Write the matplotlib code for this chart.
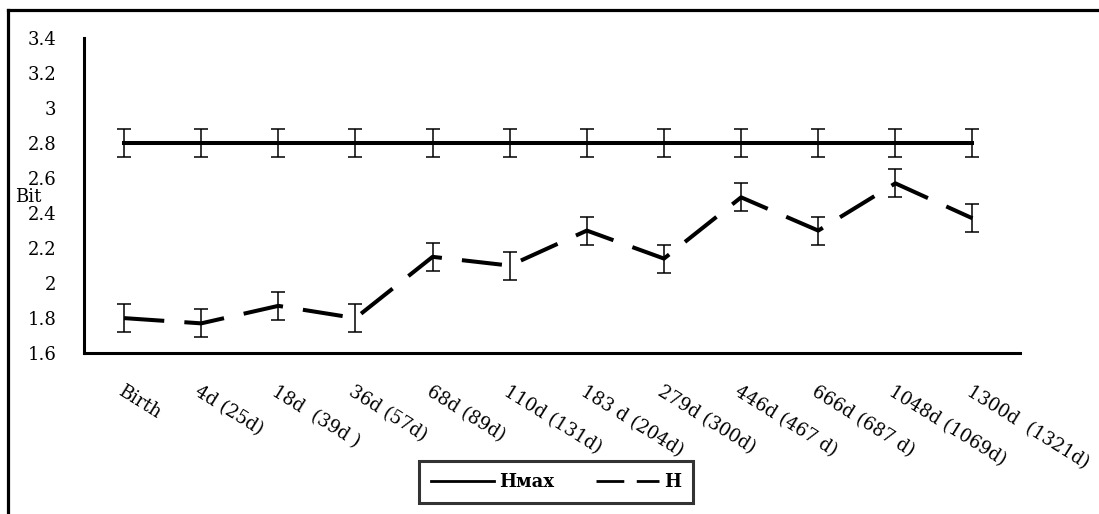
import matplotlib
matplotlib.use("Agg")
import matplotlib.pyplot as plt
from matplotlib.lines import Line2D

# ages (categories) and entropy values
ages = ['Birth', '4d (25d)', '18d  (39d )', '36d (57d)', '68d (89d)', '110d (131d)',
        '183 d (204d)', '279d (300d)', '446d (467 d)', '666d (687 d)', '1048d (1069d)',
        '1300d  (1321d)']
h_max = [2.8] * 12
h_max_err = [0.08] * 12
h = [1.80, 1.77, 1.87, 1.80, 2.15, 2.10, 2.30, 2.14, 2.49, 2.30, 2.57, 2.37]
h_err = [0.08] * 12

yticks = [1.6, 1.8, 2.0, 2.2, 2.4, 2.6, 2.8, 3.0, 3.2, 3.4]
ytick_labels = ['1.6', '1.8', '2', '2.2', '2.4', '2.6', '2.8', '3', '3.2', '3.4']

plt.rcParams['font.family'] = ['DejaVu Serif']

fig = plt.figure(figsize=(10.99, 5.14), dpi=100)
ax = fig.add_axes([0.0764, 0.313, 0.852, 0.613])

x = list(range(len(ages)))
ax.errorbar(x, h_max, yerr=h_max_err, color='black', lw=2.9, ecolor='black',
            elinewidth=1.1, capsize=5, capthick=1.1, label='Hмах')
ax.errorbar(x, h, yerr=h_err, color='black', lw=2.9, ecolor='black',
            elinewidth=1.1, capsize=5, capthick=1.1, label='H',
            dashes=(10, 5), dash_capstyle='butt')

ax.set_xlim(-0.52, 11.62)
ax.set_ylim(1.6, 3.4)
ax.set_yticks(yticks)
ax.set_yticklabels(ytick_labels, fontsize=13)
ax.set_xticks(x)
ax.set_xticklabels(ages, fontsize=13, rotation=-32, ha='left', va='top',
                   rotation_mode='anchor')
ax.tick_params(axis='y', length=0, pad=20)
ax.tick_params(axis='x', length=0, pad=21)
ax.spines['top'].set_visible(False)
ax.spines['right'].set_visible(False)
ax.spines['left'].set_linewidth(2.2)
ax.spines['bottom'].set_linewidth(2.2)

fig.text(15 / 1099, 1 - 197 / 514, 'Bit', fontsize=13, va='center', ha='left')

handles = [Line2D([], [], color='black', lw=2),
           Line2D([], [], color='black', lw=2, dashes=(10, 4.5))]
leg = fig.legend(handles, ['Hмах', 'H'], loc='center', bbox_to_anchor=(0.506, 0.062),
                 ncol=2, frameon=True, fancybox=False, handlelength=3.5,
                 handletextpad=0.3, columnspacing=2.3, borderpad=0.65,
                 prop={'weight': 'bold', 'size': 13})
leg.get_frame().set_edgecolor('black')
leg.get_frame().set_linewidth(2.2)

# figure border (left and top edges visible)
fig.add_artist(Line2D([8 / 1099, 8 / 1099], [0, 1 - 10 / 514], color='black', lw=2.3,
                      transform=fig.transFigure))
fig.add_artist(Line2D([8 / 1099, 1], [1 - 10 / 514, 1 - 10 / 514], color='black', lw=2.3,
                      transform=fig.transFigure))

fig.savefig('out.png', dpi=100)
